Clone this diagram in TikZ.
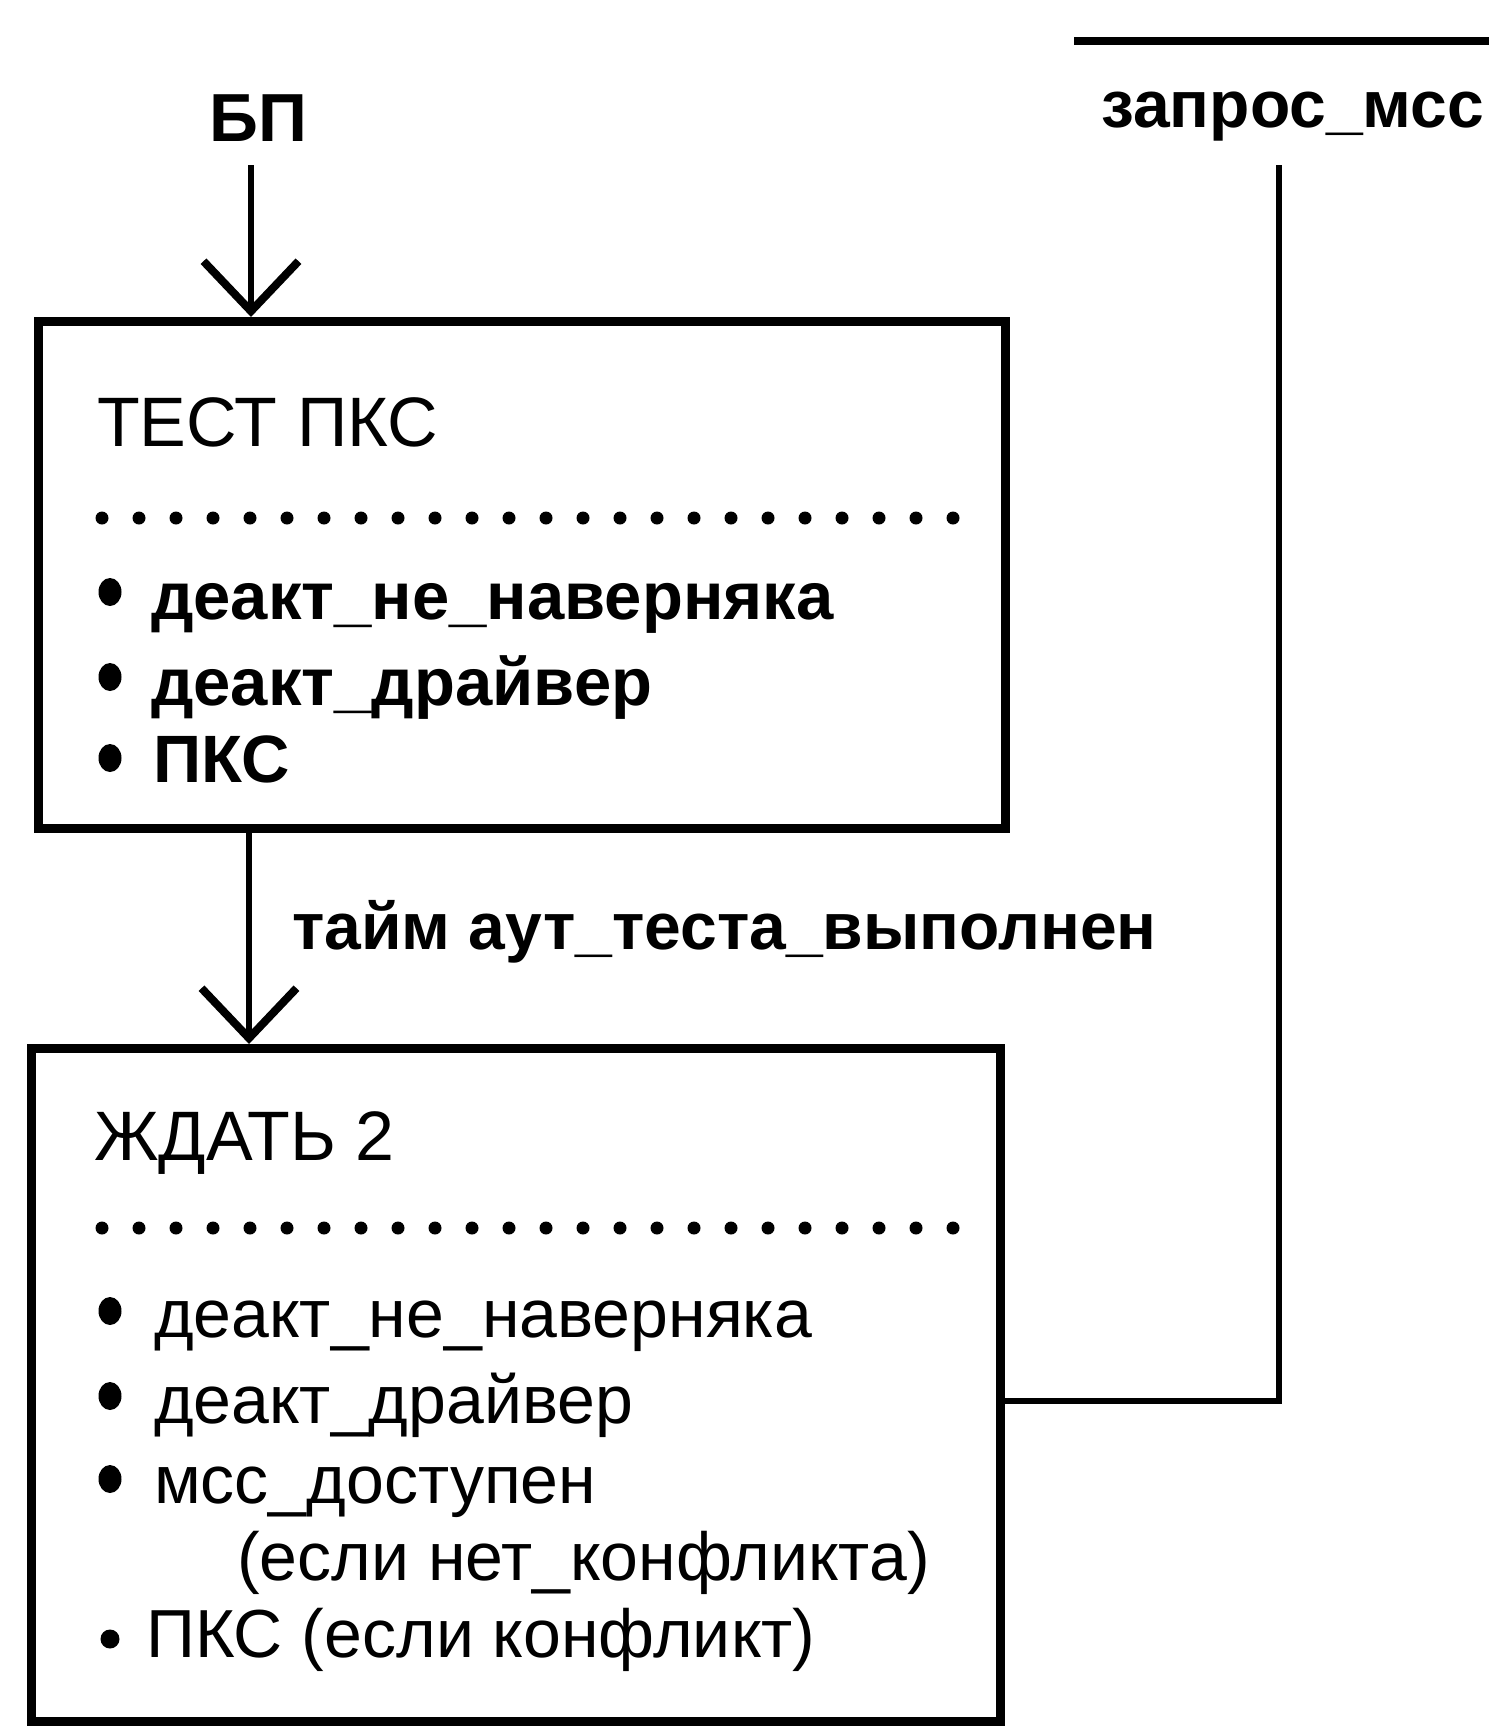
\documentclass[tikz,border=0pt]{standalone}
\usepackage{fontspec}
\setmainfont{Liberation Sans}
\usetikzlibrary{arrows.meta,shapes.geometric}
\begin{document}
\begin{tikzpicture}[x=1pt,y=-1pt,
  boxst/.style={draw, line width=9pt, inner sep=0pt},
  txt/.style={anchor=base west, inner sep=0pt, font=\fontsize{67}{78}\selectfont\bfseries},
  txtl/.style={anchor=base west, inner sep=0pt, font=\fontsize{68}{78}\selectfont},
  ttl/.style={anchor=base west, inner sep=0pt, font=\fontsize{70}{80}\selectfont},
  conn/.style={line width=6pt},
  arr/.style={conn, -{Straight Barb[length=50pt,width=95pt,line width=8pt]}},
  dotline/.style={line width=13pt, line cap=round, dash pattern=on 0pt off 37pt},
  bul/.style={ellipse, fill, inner sep=0pt, minimum width=23pt, minimum height=28pt}]
\useasboundingbox (0,0) rectangle (1489,1727);
% boxes
\node[boxst, minimum width=967pt, minimum height=507pt] (b1) at (522,575) {};
\node[boxst, minimum width=969pt, minimum height=673pt] (b2) at (515.5,1385) {};
% input BP
\node[txt, font=\fontsize{68}{80}\selectfont\bfseries] (bp) at (209,141) {БП};
\coordinate (bpin) at (251,165);
\draw[arr] (bpin) -- (bpin |- b1.north);
% box 1 contents
\node[ttl] (t1) at (97,446) {ТЕСТ ПКС};
\coordinate (d1a) at (102,518);
\coordinate (d1b) at (960,518);
\draw[dotline] (d1a) -- (d1b);
\node[bul] (u1) at (110,592) {};
\node[txt] (i1) at (151,619) {деакт\_не\_наверняка};
\node[bul] (u2) at (110,677) {};
\node[txt] (i2) at (151,705) {деакт\_драйвер};
\node[bul] (u3) at (110,758) {};
\node[txt] (i3) at (153,782) {ПКС};
% transition
\coordinate (tr) at (249,828);
\draw[arr] (tr) -- (tr |- b2.north);
\node[txt, font=\fontsize{66}{78}\selectfont\bfseries] (lab) at (292,949) {тайм аут\_теста\_выполнен};
% box 2 contents
\node[ttl] (t2) at (94,1160) {ЖДАТЬ 2};
\coordinate (d2a) at (102,1228);
\coordinate (d2b) at (960,1228);
\draw[dotline] (d2a) -- (d2b);
\node[bul] (v1) at (110,1311) {};
\node[txtl] (j1) at (154,1337) {деакт\_не\_наверняка};
\node[bul] (v2) at (110,1396) {};
\node[txtl] (j2) at (154,1423) {деакт\_драйвер};
\node[bul] (v3) at (110,1479) {};
\node[txtl] (j3) at (154,1503) {мсс\_доступен};
\node[txtl] (j4) at (237,1580) {(если нет\_конфликта)};
\node[circle, fill, inner sep=0pt, minimum size=19pt] (v5) at (110,1639) {};
\node[txtl] (j5) at (146,1657) {ПКС (если конфликт)};
% запрос_мсс
\coordinate (tl1) at (1074,41);
\coordinate (tl2) at (1489,41);
\draw[conn, line width=8pt] (tl1) -- (tl2);
\node[txt, font=\fontsize{66}{78}\selectfont\bfseries] (zap) at (1101,127) {запрос\_мсс};
\coordinate (zt) at (1279,165);
\coordinate (zb) at (1279,1401);
\draw[conn] (zt) -- (zb) -- (zb -| b2.east);
\end{tikzpicture}
\end{document}
